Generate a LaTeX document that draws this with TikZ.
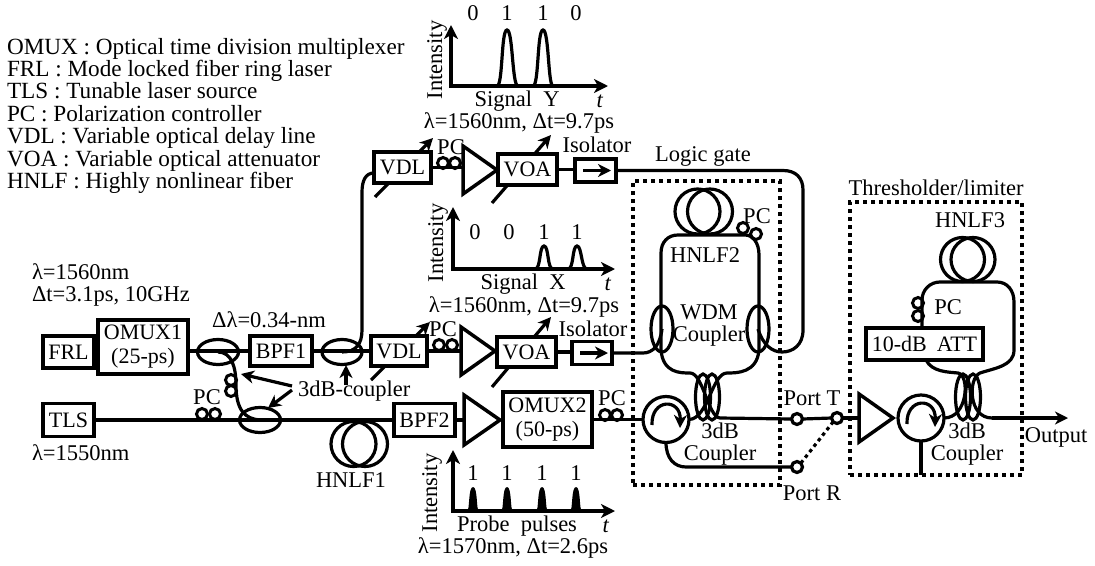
\documentclass[tikz,border=0pt]{standalone}
\usepackage{fontspec}
\setmainfont{Liberation Serif}
\usetikzlibrary{shapes.geometric,arrows.meta}
\newcommand{\lab}{\fontsize{22.5}{24}\selectfont}
\tikzset{
  every node/.style={font=\lab,inner sep=0pt,outer sep=0pt},
  twoline/.style={align=center,font=\fontsize{22.5}{22}\selectfont},
  fiber/.style={line width=3.2pt},
  tagbox/.style={draw,line width=3.5pt,fill=white,rectangle,font=\fontsize{22}{24}\selectfont},
  amp/.style={draw,line width=3.5pt,fill=white,isosceles triangle,isosceles triangle stretches,
    minimum width=48pt,minimum height=34pt,anchor=apex},
  split/.style={draw,line width=3.2pt,ellipse},
  ring/.style={draw,line width=3.2pt,circle,minimum size=46pt},
  pcloop/.style={draw,line width=3pt,circle,minimum size=11pt},
  port/.style={draw,line width=3.2pt,circle,fill=white,minimum size=11pt},
  dotbox/.style={draw,line width=3.5pt,rectangle,dash pattern=on 4pt off 4pt},
  tune/.style={-{Stealth[length=13pt,width=13pt,inset=4pt]},line width=3.2pt},
  axis/.style={{Stealth[length=14pt,width=14pt,inset=4pt]}-{Stealth[length=14pt,width=14pt,inset=4pt]},line width=3.2pt},
  pulse/.style={line width=3.2pt}
}
\begin{document}
\begin{tikzpicture}[x=1pt,y=-1pt]
    \useasboundingbox (0,0) rectangle (1095,565);

    % legenda
    \node[anchor=north west,align=left,font=\fontsize{23.2}{22.4}\selectfont] (legend) at (7,38)
      {OMUX : Optical time division multiplexer\\ FRL : Mode locked fiber ring laser\\
       TLS : Tunable laser source\\ PC : Polarization controller\\
       VDL : Variable optical delay line\\ VOA : Variable optical attenuator\\
       HNLF : Highly nonlinear fiber};

    % frecce di regolazione
    \coordinate (vdlatail) at (375,197);
    \coordinate (vdlahead) at (433,138);
    \coordinate (voaatail) at (492,203);
    \coordinate (voaahead) at (551,135);
    \coordinate (vdlbtail) at (371,380);
    \coordinate (vdlbhead) at (430,322);
    \coordinate (voabtail) at (492,387);
    \coordinate (voabhead) at (551,317);
    \draw[tune] (vdlatail) -- (vdlahead);
    \draw[tune] (voaatail) -- (voaahead);
    \draw[tune] (vdlbtail) -- (vdlbhead);
    \draw[tune] (voabtail) -- (voabhead);

    % blocchi
    \node[tagbox,minimum width=51pt,minimum height=32pt] (frl) at (68.5,352) {FRL};
    \node[tagbox,minimum width=90pt,minimum height=54pt,align=center] (omuxa) at (143,347) {OMUX1\\(25-ps)};
    \node[tagbox,minimum width=62pt,minimum height=30pt] (bpfa) at (281,351) {BPF1};
    \node[tagbox,minimum width=51pt,minimum height=33pt] (tls) at (68.5,420) {TLS};
    \node[tagbox,minimum width=61pt,minimum height=33pt] (bpfb) at (424.5,420) {BPF2};
    \node[tagbox,minimum width=89pt,minimum height=55pt,align=center] (omuxb) at (547.5,419.5) {OMUX2\\(50-ps)};
    \node[tagbox,minimum width=57pt,minimum height=31pt] (vdla) at (402.5,167.5) {VDL};
    \node[tagbox,minimum width=56pt,minimum height=30pt] (vdlb) at (399,351) {VDL};
    \node[tagbox,minimum width=59pt,minimum height=31pt] (voaa) at (527.5,169.5) {VOA};
    \node[tagbox,minimum width=59pt,minimum height=30pt] (voab) at (526.5,352) {VOA};
    \node[tagbox,minimum width=41pt,minimum height=23pt] (isoa) at (595.5,170.5) {};
    \node[tagbox,minimum width=40pt,minimum height=23pt] (isob) at (592,353) {};
    \node[tagbox,minimum width=117pt,minimum height=32pt] (att) at (924.5,344) {10-dB\hspace{10pt}ATT};
    \draw[tune] (583,170.5) -- (611,170.5);
    \draw[tune] (580,353) -- (608,353);

    % amplificatori
    \node[amp] (ampa) at (497,170) {};
    \node[amp] (ampb) at (495,351) {};
    \node[amp,minimum width=50pt,minimum height=36pt] (ampc) at (500,420) {};
    \node[amp] (ampd) at (893,418) {};

    % accoppiatori
    \node[split,minimum width=41pt,minimum height=25pt] (cpla) at (218,352) {};
    \node[split,minimum width=40pt,minimum height=25pt] (cplb) at (342,352) {};
    \node[split,minimum width=41pt,minimum height=25pt] (cplc) at (260,420) {};
    \node[split,minimum width=22pt,minimum height=46pt] (wdma) at (662,329) {};
    \node[split,minimum width=22pt,minimum height=46pt] (wdmb) at (758,329) {};
    \node[split,minimum width=15pt,minimum height=46pt] (cpda) at (703,397) {};
    \node[split,minimum width=15pt,minimum height=46pt] (cpdb) at (712,397) {};
    \node[split,minimum width=15pt,minimum height=46pt] (cpea) at (963,397) {};
    \node[split,minimum width=15pt,minimum height=46pt] (cpeb) at (973,397) {};

    % circolatori
    \node[ring] (cira) at (666,419.5) {};
    \node[ring] (cirb) at (921,418) {};
    \draw[tune] (652,425) .. controls (651,398) and (681,398) .. (680,428);
    \draw[tune] (907,424) .. controls (906,397) and (936,397) .. (935,427);

    % bobine
    \node[ring,minimum size=45pt] (hnlfaa) at (353.5,444) {};
    \node[ring,minimum size=45pt] (hnlfab) at (365,444) {};
    \node[ring,minimum size=45pt] (hnlfba) at (697.5,211.5) {};
    \node[ring,minimum size=45pt] (hnlfbb) at (710,211.5) {};
    \node[ring,minimum size=44pt] (hnlfca) at (962.5,259.5) {};
    \node[ring,minimum size=44pt] (hnlfcb) at (973,259.5) {};

    % polarizzatori
    \node[pcloop] (pca) at (202,414) {};
    \node[pcloop] (pcb) at (215,414) {};
    \node[pcloop] (pcc) at (231,380) {};
    \node[pcloop] (pcd) at (231,391) {};
    \node[pcloop] (pce) at (443,163) {};
    \node[pcloop] (pcf) at (455,163) {};
    \node[pcloop] (pcg) at (439,345) {};
    \node[pcloop] (pch) at (452,345) {};
    \node[pcloop] (pci) at (605,415) {};
    \node[pcloop] (pcj) at (617,415) {};
    \node[pcloop] (pck) at (743,228) {};
    \node[pcloop] (pcl) at (756,234) {};
    \node[pcloop] (pcm) at (918,303) {};
    \node[pcloop] (pcn) at (918,316) {};

    % porte
    \node[port] (porta) at (797,419) {};
    \node[port] (portb) at (837,418) {};
    \node[port] (portc) at (797,467) {};

    % fibre
    \draw[fiber] (frl.east) -- (frl.east -| omuxa.west);
    \draw[fiber] (omuxa.east |- bpfa.west) -- (bpfa.west);
    \draw[fiber] (bpfa.east) -- (vdlb.west);
    \draw[fiber] (tls.east) -- (bpfb.west);
    \draw[fiber] (bpfb.east) -- (bpfb.east -| ampc.lower side);
    \draw[fiber] (vdlb.east) -- (ampb.lower side);
    \draw[fiber] (vdla.east) -- (vdla.east -| ampa.lower side);
    \draw[fiber] (voaa.east) -- (voaa.east -| isoa.west);
    \draw[fiber] (voab.east) -- (voab.east -| isob.west);
    \draw[fiber] (omuxb.east |- cira.west) -- (cira.west);
    \draw[fiber] (cpla.center) .. controls (232,352) and (236,368) .. (236,385)
      .. controls (236,410) and (245,419) .. (cplc.center);
    \draw[fiber] (cplb.center) .. controls (356,352) and (362,344) .. (362,330) -- (362,192)
      .. controls (362,180) and (366,173) .. (vdla.west |- 374,173);
    % anello HNLF2
    \draw[fiber] (isoa.east) -- (783,170.5) .. controls (796,170.5) and (803,178) .. (803,190)
      -- (803,330) .. controls (803,345) and (793,352) .. (782,352)
      .. controls (772,352) and (763,345) .. (wdmb.center);
    \draw[fiber] (isob.east) -- (643,353) .. controls (653,353) and (660,345) .. (wdma.center);
    \draw[fiber] (661,350) -- (661,253) .. controls (661,242) and (668,235) .. (678,235)
      -- (745,235) .. controls (753,235) and (759,243) .. (759,255) -- (759,350);
    \draw[fiber] (661,350) .. controls (663,373) and (680,373) .. (690,373)
      .. controls (703,373) and (708,417) .. (720,418) -- (porta.west);
    \draw[fiber] (759,350) .. controls (757,373) and (737,373) .. (727,373)
      .. controls (712,373) and (708,419) .. (cira.east);
    \draw[fiber] (porta.east) -- (portb.west);
    \draw[fiber] (portb.east) -- (ampd.lower side);
    \draw[fiber] (cira.south) .. controls (666,458) and (674,467) .. (686,467) -- (portc.west);
    \draw[fiber,dash pattern=on 3.5pt off 3.5pt] (portc.north east) -- (portb.south west);
    % anello HNLF3
    \draw[fiber] (922,327) -- (922,300) .. controls (922,290) and (930,282) .. (940,282)
      -- (997,282) .. controls (1007,282) and (1014,290) .. (1014,302) -- (1014,350)
      .. controls (1014,366) and (995,368) .. (980,373)
      .. controls (968,378) and (968,418) .. (992,418);
    \draw[tune] (992,418) -- (1068,418);
    \draw[fiber] (926,360) .. controls (932,372) and (948,372) .. (958,373)
      .. controls (970,375) and (968,418) .. (cirb.east);
    \draw[fiber] (cirb.south) -- (921,475);

    % riquadri
    \node[dotbox,minimum width=147pt,minimum height=304pt] (logicbox) at (706.5,333) {};
    \node[dotbox,minimum width=172pt,minimum height=273pt] (limitbox) at (936,338.5) {};

    % grafico Y
    \draw[axis] (451,25) -- (451,86) -- (608,86);
    \draw[pulse] (497,86) .. controls (503,86) and (501,30) .. (507,30) .. controls (513,30) and (512,86) .. (518,86);
    \draw[pulse] (533,86) .. controls (539,86) and (537,30) .. (543,30) .. controls (549,30) and (548,86) .. (553,86);
    \node (ya) at (473,13) {0};
    \node (yb) at (507,13) {1};
    \node (yc) at (543,13) {1};
    \node (yd) at (576,13) {0};
    \node[rotate=90] (yint) at (437,60) {Intensity};
    \node (ysig) at (517,101) {Signal\ \ Y};
    \node (yt) at (600,101) {\textit{t}};
    \node (ylam) at (519,123) {λ=1560nm,\ Δt=9.7ps};

    % grafico X
    \draw[axis] (453,207) -- (453,269) -- (615,269);
    \draw[pulse] (535,269) .. controls (541,269) and (539,246) .. (544,246) .. controls (549,246) and (547,269) .. (553,269);
    \draw[pulse] (568,269) .. controls (574,269) and (572,246) .. (577,246) .. controls (582,246) and (581,269) .. (587,269);
    \node (xa) at (475,232) {0};
    \node (xb) at (509,232) {0};
    \node (xc) at (544,232) {1};
    \node (xd) at (577,232) {1};
    \node[rotate=90] (xint) at (438,243) {Intensity};
    \node (xsig) at (523,284) {Signal\ \ X};
    \node (xt) at (608,284) {\textit{t}};
    \node (xlam) at (524,307) {λ=1560nm,\ Δt=9.7ps};

    % grafico sonda
    \draw[axis] (453,450) -- (453,511) -- (615,511);
    \fill (467,511) .. controls (470,511) and (468,487) .. (473,487) .. controls (478,487) and (476,511) .. (479,511) -- cycle;
    \fill (501,511) .. controls (504,511) and (502,487) .. (507,487) .. controls (512,487) and (510,511) .. (513,511) -- cycle;
    \fill (536,511) .. controls (539,511) and (537,487) .. (542,487) .. controls (547,487) and (545,511) .. (548,511) -- cycle;
    \fill (570,511) .. controls (573,511) and (571,487) .. (576,487) .. controls (581,487) and (579,511) .. (582,511) -- cycle;
    \node (pa) at (473,473) {1};
    \node (pb) at (507,473) {1};
    \node (pc) at (542,473) {1};
    \node (pd) at (576,473) {1};
    \node[rotate=90] (pint) at (432,493) {Intensity};
    \node (psig) at (517,526) {Probe\ \ pulses};
    \node (pt) at (606,526) {\textit{t}};
    \node (plam) at (513,548) {λ=1570nm,\ Δt=2.6ps};

    % etichette
    \node[twoline,align=left,anchor=west] (laa) at (32,285) {λ=1560nm\\Δt=3.1ps,\ 10GHz};
    \node[anchor=west] (lac) at (32,453) {λ=1550nm};
    \node (dlam) at (269,320) {Δλ=0.34-nm};
    \node[anchor=west] (three) at (298,391) {3dB-coupler};
    \draw[tune] (292,386) -- (241,374);
    \draw[tune] (292,390) -- (268,408);
    \draw[tune] (346,385) -- (346,365);
    \node (hnlfalab) at (351,480) {HNLF1};
    \node (hnlfblab) at (705,255) {HNLF2};
    \node (hnlfclab) at (970,220) {HNLF3};
    \node (pclaba) at (207,397) {PC};
    \node (pclabb) at (451,147) {PC};
    \node (pclabc) at (443,329) {PC};
    \node (pclabd) at (612,398) {PC};
    \node (pclabe) at (757,216) {PC};
    \node (pclabf) at (948,307) {PC};
    \node (isolaba) at (597,145) {Isolator};
    \node (isolabb) at (593,329) {Isolator};
    \node (logiclab) at (703,156) {Logic\ gate};
    \node (limitlab) at (936,188) {Thresholder/limiter};
    \node[twoline] (wdmlab) at (709,326) {WDM\\Coupler};
    \node[twoline] (dblaba) at (720,444) {3dB\\Coupler};
    \node[twoline] (dblabb) at (967,444) {3dB\\Coupler};
    \node (portlaba) at (812,398) {Port\ T};
    \node (portlabb) at (812,493) {Port\ R};
    \node (outlab) at (1056,437) {Output};
\end{tikzpicture}
\end{document}
